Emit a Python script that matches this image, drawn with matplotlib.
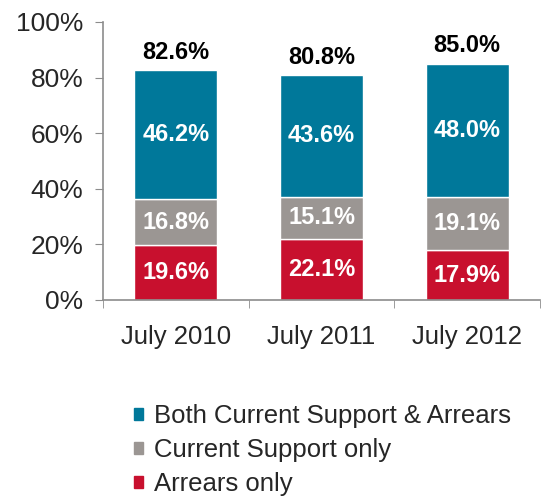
import numpy as np
import matplotlib.pyplot as plt
from matplotlib.patches import Patch

anios = ['July 2010', 'July 2011', 'July 2012']
arrears = [19.6, 22.1, 17.9]
current = [16.8, 15.1, 19.1]
both = [46.2, 43.6, 48.0]
totales = [82.6, 80.8, 85.0]

c_both = '#00789a'
c_current = '#9b9693'
c_arrears = '#c8102e'
gris = '#8c8c8c'

plt.rcParams['font.family'] = ['Liberation Sans', 'DejaVu Sans']

fig = plt.figure(figsize=(5.42, 5.03), dpi=100)
ax = fig.add_axes([103 / 542, 0.4036, 437 / 542, 0.5527])

x = np.arange(len(anios))
ancho = 0.57
ax.bar(x, arrears, ancho, color=c_arrears, edgecolor='white', linewidth=1)
ax.bar(x, current, ancho, bottom=arrears, color=c_current, edgecolor='white', linewidth=1)
base = np.array(arrears) + np.array(current)
ax.bar(x, both, ancho, bottom=base, color=c_both, edgecolor='white', linewidth=1)

for i in range(len(anios)):
    ax.text(x[i], arrears[i] / 2, f'{arrears[i]:.1f}%', ha='center', va='center',
            color='white', fontsize=17, fontweight='bold')
    ax.text(x[i], arrears[i] + current[i] / 2, f'{current[i]:.1f}%', ha='center', va='center',
            color='white', fontsize=17, fontweight='bold')
    ax.text(x[i], base[i] + both[i] / 2, f'{both[i]:.1f}%', ha='center', va='center',
            color='white', fontsize=17, fontweight='bold')
    ax.text(x[i], totales[i] + 6.5, f'{totales[i]:.1f}%', ha='center', va='center',
            color='black', fontsize=17, fontweight='bold')

ax.set_xlim(-0.5, 2.5)
ax.set_ylim(0, 100)
ax.set_yticks(range(0, 101, 20))
ax.set_yticklabels([f'{v}%' for v in range(0, 101, 20)])
ax.set_xticks(x)
ax.set_xticklabels(anios)
ax.tick_params(axis='x', length=0, pad=18, labelsize=18.5, labelcolor='#262626')
ax.tick_params(axis='y', length=6, color=gris, labelsize=19, labelcolor='#262626', pad=8)
ax.set_xticks([-0.5, 0.5, 1.5, 2.5], minor=True)
ax.tick_params(axis='x', which='minor', length=6, color=gris)

for lado in ['top', 'right']:
    ax.spines[lado].set_visible(False)
for lado in ['left', 'bottom']:
    ax.spines[lado].set_color(gris)
    ax.spines[lado].set_linewidth(1.2)

manejadores = [Patch(color=c_both, label='Both Current Support & Arrears'),
               Patch(color=c_current, label='Current Support only'),
               Patch(color=c_arrears, label='Arrears only')]
fig.legend(handles=manejadores, loc='upper left', bbox_to_anchor=(121 / 542, 1 - 391 / 503),
           frameon=False, fontsize=18.5, handlelength=0.35, handleheight=0.35,
           handletextpad=0.45, labelspacing=0.4, labelcolor='#262626', borderpad=0)

fig.savefig('out.png', dpi=100)
